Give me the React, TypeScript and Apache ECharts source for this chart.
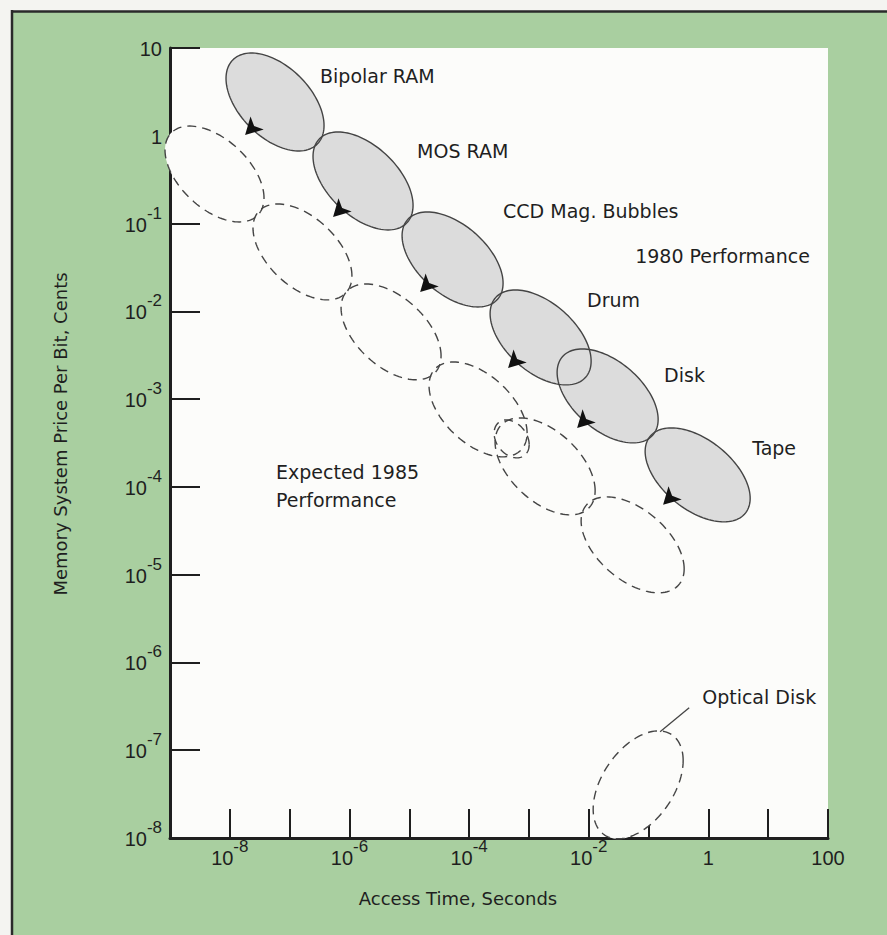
import React, { useEffect, useRef } from 'react';
import * as echarts from 'echarts';

// ---- Data (access time in seconds, price in cents per bit) ----
// 1980 performance regions: [minTime, maxTime], [minPrice, maxPrice], tilt (log-log correlation)
const tech1980 = ['Bipolar RAM', 'MOS RAM', 'CCD Mag. Bubbles', 'Drum', 'Disk', 'Tape'];
const time1980 = [
  [8.64e-9, 3.76e-7],
  [2.46e-7, 1.157e-5],
  [7.58e-6, 3.7e-4],
  [2.245e-4, 0.01097],
  [2.962e-3, 0.1447],
  [0.0877, 5.0],
];
const price1980 = [
  [0.671, 8.77],
  [0.0846, 1.105],
  [0.01122, 0.1355],
  [1.451e-3, 0.01753],
  [3.17e-4, 3.73e-3],
  [3.995e-5, 4.7e-4],
];
const tilt1980 = [-0.48, -0.5, -0.5, -0.5, -0.5, -0.5];

// Expected 1985 performance regions
const tech1985 = ['Bipolar RAM', 'MOS RAM', 'CCD', 'Drum', 'Mag. Bubbles', 'Disk', 'Tape', 'Optical Disk'];
const time1985 = [
  [8.25e-10, 3.73e-8],
  [2.44e-8, 1.1e-6],
  [7.24e-7, 3.4e-5],
  [2.14e-5, 9.33e-4],
  [2.62e-4, 1.01e-3],
  [2.72e-4, 0.0128],
  [7.46e-3, 0.394],
  [0.01186, 0.379],
];
const price1985 = [
  [0.1043, 1.29],
  [0.0135, 0.167],
  [1.66e-3, 0.0205],
  [2.2e-4, 2.65e-3],
  [2.14e-4, 5.79e-4],
  [4.8e-5, 6.11e-4],
  [6.21e-6, 7.69e-5],
  [9.79e-9, 1.66e-7],
];
const tilt1985 = [-0.5, -0.5, -0.5, -0.5, -0.3, -0.5, -0.5, 0.45];

// Arrows from 1980 to 1985 regions: [time, price]
const arrowPoints = [
  [1.8e-8, 1.02],
  [5.32e-7, 0.119],
  [1.52e-5, 0.0166],
  [4.49e-4, 2.26e-3],
  [6.4e-3, 4.7e-4],
  [0.175, 6.24e-5],
];

// Annotation labels
const annotationText = [
  'Bipolar RAM',
  'MOS RAM',
  'CCD Mag. Bubbles',
  '1980 Performance',
  'Drum',
  'Disk',
  'Tape',
  'Expected 1985\nPerformance',
  'Optical Disk',
];
const annotationTime = [3.22e-7, 1.35e-5, 3.7e-4, 0.0597, 9.4e-3, 0.182, 5.4, 5.92e-8, 0.788];
const annotationPrice = [4.8, 0.671, 0.139, 0.0428, 0.0135, 1.89e-3, 2.78e-4, 1.03e-4, 4.06e-7];

// Leader line for Optical Disk
const leaderLine = [
  [0.156, 1.62e-7],
  [0.478, 3.04e-7],
];

const xTitle = 'Access Time, Seconds';
const yTitle = 'Memory System Price Per Bit, Cents';

// ---- Styles ----
const GREEN = '#a9cfa0';
const PAPER = '#fcfcfa';
const AXIS = '#1f1f1f';
const TEXT = '#1f1f1f';
const OUTLINE = '#444444';
const FILL80 = '#dcdcdc';

function ellipsePoints(api: any) {
  const t0 = Math.log10(api.value(0));
  const t1 = Math.log10(api.value(1));
  const p0 = Math.log10(api.value(2));
  const p1 = Math.log10(api.value(3));
  const rho = api.value(4);
  const cx = (t0 + t1) / 2;
  const hx = (t1 - t0) / 2;
  const cy = (p0 + p1) / 2;
  const hy = (p1 - p0) / 2;
  const s = Math.sqrt(1 - rho * rho);
  const pts: number[][] = [];
  const n = 120;
  for (let i = 0; i < n; i++) {
    const a = (i / n) * Math.PI * 2;
    const lx = cx + hx * Math.cos(a);
    const ly = cy + hy * (rho * Math.cos(a) + s * Math.sin(a));
    pts.push(api.coord([Math.pow(10, lx), Math.pow(10, ly)]));
  }
  return pts;
}

function makeRender(fill: string | null, stroke: string | null, dashed: boolean) {
  return (_params: any, api: any) => ({
    type: 'polygon',
    shape: { points: ellipsePoints(api) },
    style: {
      fill: fill || 'none',
      stroke: stroke || 'none',
      lineWidth: stroke ? 1.4 : 0,
      lineDash: dashed ? [9, 6] : null,
    },
  });
}

const tickLabel = (v: number, skipOdd: boolean) => {
  const e = Math.round(Math.log10(v));
  if (skipOdd && e % 2 !== 0) return '';
  if (e === 0) return '{plain|1}';
  if (e === 1) return '{plain|10}';
  if (e === 2) return '{plain|100}';
  return `{base|10}{sup|${e}}`;
};

const richTick = {
  base: { fontFamily: 'Liberation Sans', fontSize: 20, lineHeight: 22, verticalAlign: 'bottom', color: TEXT },
  sup: { fontFamily: 'Liberation Sans', fontSize: 17, lineHeight: 17, padding: [0, 0, 13, 0], verticalAlign: 'bottom', color: TEXT },
  plain: { fontFamily: 'Liberation Sans', fontSize: 20, lineHeight: 22, padding: [8, 0, 0, 0], verticalAlign: 'bottom', color: TEXT },
};

export default function App() {
  const ref = useRef<HTMLDivElement>(null);

  useEffect(() => {
    if (!ref.current) return;
    const chart = echarts.init(ref.current, null, { renderer: 'svg' });

    const data1980 = tech1980.map((n, i) => ({
      name: n,
      value: [time1980[i][0], time1980[i][1], price1980[i][0], price1980[i][1], tilt1980[i]],
    }));
    const data1985 = tech1985.map((n, i) => ({
      name: n,
      value: [time1985[i][0], time1985[i][1], price1985[i][0], price1985[i][1], tilt1985[i]],
    }));
    const labelData = annotationText.map((t, i) => ({
      name: t,
      value: [annotationTime[i], annotationPrice[i]],
    }));

    const option: any = {
      animation: false,
      backgroundColor: GREEN,
      grid: {
        left: 170,
        right: 59,
        top: 48,
        bottom: 97,
        show: true,
        backgroundColor: PAPER,
        borderWidth: 0,
      },
      xAxis: {
        type: 'log',
        logBase: 10,
        min: 1e-9,
        max: 100,
        interval: 1,
        axisLine: { show: true, onZero: false, lineStyle: { color: AXIS, width: 3 } },
        axisTick: { show: true, inside: true, length: 29, lineStyle: { color: AXIS, width: 2 } },
        minorTick: { show: false },
        splitLine: { show: false },
        axisLabel: {
          show: true,
          margin: 8,
          fontSize: 20,
          fontFamily: 'Liberation Sans',
          color: TEXT,
          showMinLabel: true,
          showMaxLabel: true,
          hideOverlap: false,
          formatter: (v: number) => tickLabel(v, true),
          rich: richTick,
        },
      },
      yAxis: {
        type: 'log',
        logBase: 10,
        min: 1e-8,
        max: 10,
        interval: 1,
        axisLine: { show: true, onZero: false, lineStyle: { color: AXIS, width: 3 } },
        axisTick: { show: true, inside: true, length: 30, lineStyle: { color: AXIS, width: 2 } },
        minorTick: { show: false },
        splitLine: { show: false },
        axisLabel: {
          show: true,
          margin: 8,
          fontSize: 20,
          fontFamily: 'Liberation Sans',
          color: TEXT,
          showMinLabel: true,
          showMaxLabel: true,
          hideOverlap: false,
          formatter: (v: number) => tickLabel(v, false),
          rich: richTick,
        },
      },
      graphic: [
        { type: 'rect', shape: { x: 0, y: 0, width: 887, height: 11 }, style: { fill: '#f4f4f1' }, z: 1 },
        { type: 'rect', shape: { x: 0, y: 0, width: 12, height: 935 }, style: { fill: '#f4f4f1' }, z: 1 },
        { type: 'line', shape: { x1: 11, y1: 11.5, x2: 887, y2: 11.5 }, style: { stroke: '#2a2a2a', lineWidth: 2.5 }, z: 2 },
        { type: 'line', shape: { x1: 12, y1: 10, x2: 12, y2: 935 }, style: { stroke: '#2a2a2a', lineWidth: 2.5 }, z: 2 },
        {
          type: 'text',
          x: 60,
          y: 434,
          rotation: Math.PI / 2,
          style: {
            text: yTitle,
            fontFamily: 'DejaVu Sans',
            fontSize: 18,
            fill: TEXT,
            align: 'center',
            verticalAlign: 'middle',
          },
          z: 3,
        },
        {
          type: 'text',
          x: 458,
          y: 898,
          style: {
            text: xTitle,
            fontFamily: 'DejaVu Sans',
            fontSize: 18,
            fill: TEXT,
            align: 'center',
            verticalAlign: 'middle',
          },
          z: 3,
        },
      ],
      series: [
        {
          name: '1985 fill',
          type: 'custom',
          coordinateSystem: 'cartesian2d',
          clip: false,
          encode: { x: [0, 1], y: [2, 3] },
          renderItem: makeRender(PAPER, null, false),
          data: data1985,
          silent: true,
        },
        {
          name: '1980 fill',
          type: 'custom',
          coordinateSystem: 'cartesian2d',
          clip: false,
          encode: { x: [0, 1], y: [2, 3] },
          renderItem: makeRender(FILL80, null, false),
          data: data1980,
          silent: true,
        },
        {
          name: 'Expected 1985 Performance',
          type: 'custom',
          coordinateSystem: 'cartesian2d',
          clip: false,
          encode: { x: [0, 1], y: [2, 3] },
          renderItem: makeRender(null, OUTLINE, true),
          data: data1985,
          silent: true,
        },
        {
          name: '1980 Performance',
          type: 'custom',
          coordinateSystem: 'cartesian2d',
          clip: false,
          encode: { x: [0, 1], y: [2, 3] },
          renderItem: makeRender(null, OUTLINE, false),
          data: data1980,
          silent: true,
        },
        {
          name: 'Arrows',
          type: 'scatter',
          symbol: 'arrow',
          symbolSize: [14, 17],
          symbolRotate: 135,
          itemStyle: { color: '#111111', opacity: 1 },
          data: arrowPoints,
          silent: true,
          z: 4,
        },
        {
          name: 'Leader',
          type: 'line',
          data: leaderLine,
          symbol: 'none',
          lineStyle: { color: OUTLINE, width: 1.3 },
          silent: true,
          z: 4,
        },
        {
          name: 'Labels',
          type: 'scatter',
          symbolSize: 0,
          itemStyle: { opacity: 1 },
          data: labelData,
          silent: true,
          z: 5,
          label: {
            show: true,
            position: 'inside',
            align: 'left',
            verticalAlign: 'middle',
            formatter: '{b}',
            fontFamily: 'DejaVu Sans',
            fontSize: 19,
            lineHeight: 28,
            color: TEXT,
            opacity: 1,
            textBorderWidth: 0,
          },
          labelLayout: { hideOverlap: false },
        },
      ],
    };

    chart.setOption(option);
    return () => {
      chart.dispose();
    };
  }, []);

  return (
    <div
      ref={ref}
      style={{ position: 'absolute', left: 0, top: 0, width: 887, height: 935 }}
    />
  );
}
